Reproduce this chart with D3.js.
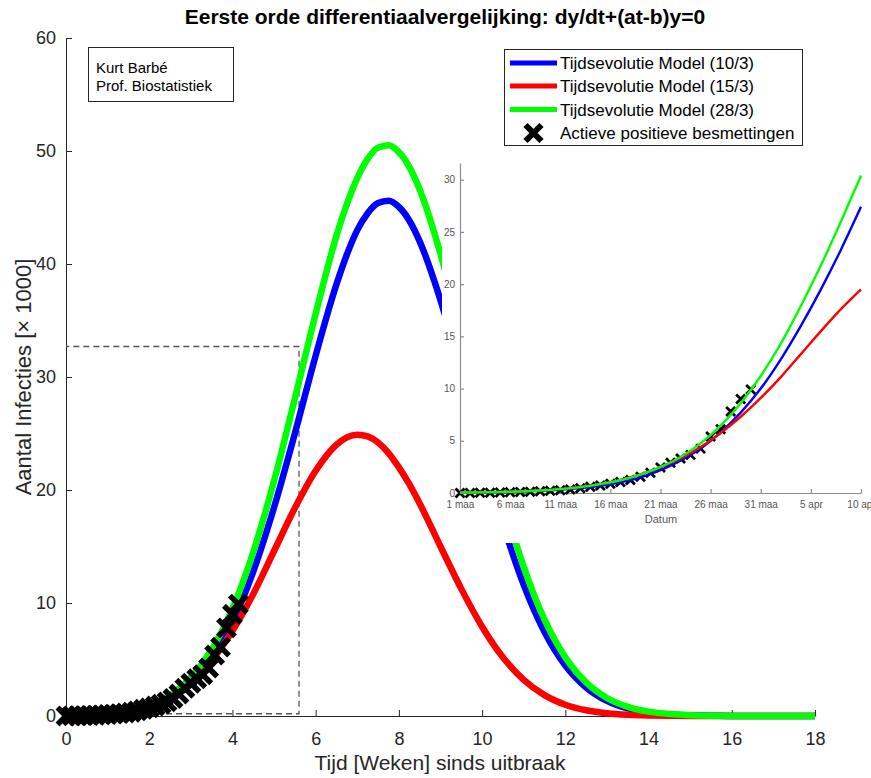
<!DOCTYPE html>
<html><head><meta charset="utf-8">
<script src="https://cdn.jsdelivr.net/npm/d3@7"></script>
<style>
body{margin:0;background:#fff;}
svg{display:block;font-family:"Liberation Sans",Arial,Helvetica,sans-serif;}
</style>
</head><body><svg id="c" width="871" height="778"></svg>
<script>
// ---------- DATA ----------
const titleText = "Eerste orde differentiaalvergelijking: dy/dt+(at-b)y=0";
const xLabel = "Tijd [Weken] sinds uitbraak";
const yLabel = "Aantal Infecties [\u00d7 1000]";
const seriesNames = ["Tijdsevolutie Model (10/3)", "Tijdsevolutie Model (15/3)", "Tijdsevolutie Model (28/3)"];
const markerName = "Actieve positieve besmettingen";
const noteLines = ["Kurt Barb\u00e9", "Prof. Biostatistiek"];

const xTicks = [0, 2, 4, 6, 8, 10, 12, 14, 16, 18];
const yTicks = [0, 10, 20, 30, 40, 50, 60];

// model curves, main chart (weeks, x1000)
const tWeeks = [0,0.5,1,1.5,2,2.5,3,3.5,4,4.5,5,5.5,6,6.5,6.75,7,7.25,7.5,7.75,8,8.25,8.5,9,9.5,10,10.5,11,11.5,12,12.5,13,13.5,14,14.5,15,15.5,16,16.5,17,17.5,18];
const blueMain  = [0.028,0.071,0.169,0.379,0.797,1.57,2.91,5.08,8.31,12.78,18.46,25.0,31.9,38.2,40.84,43.0,44.5,45.4,45.6,45.05,43.85,42.0,36.8,30.3,23.4,17.0,11.6,7.43,4.47,2.53,1.34,0.67,0.314,0.138,0.057,0.022,0.008,0.003,0.001,0,0];
const redMain   = [0.040,0.097,0.219,0.464,0.924,1.72,3.00,4.91,7.54,10.8,14.6,18.4,21.7,24.0,24.65,24.9,24.74,24.2,23.27,22.0,20.51,18.8,15.0,11.25,7.90,5.19,3.20,1.85,1.00,0.506,0.240,0.107,0.045,0.017,0.006,0.002,0.001,0,0,0,0];
const greenMain = [0.036,0.089,0.210,0.461,0.955,1.86,3.41,5.87,9.51,14.5,20.8,28.1,35.6,42.5,45.3,47.6,49.3,50.3,50.5,49.9,48.6,46.6,40.9,33.8,26.3,19.2,13.2,8.52,5.19,2.97,1.59,0.806,0.383,0.172,0.072,0.029,0.011,0.004,0.001,0,0];

// observed cases (days since 1 March, x1000)
const caseDays   = [0,1,2,3,4,5,6,7,8,9,10,11,12,13,14,15,16,17,18,19,20,21,22,23,24,25,26,27,28,29];
const caseValues = [0.0,0.01,0.02,0.03,0.05,0.07,0.10,0.13,0.17,0.21,0.27,0.33,0.45,0.60,0.72,0.88,1.05,1.25,1.55,1.95,2.45,2.9,3.3,3.65,4.25,5.4,6.1,7.8,9.0,9.9];

// inset (days since 1 March, x1000)
const insetDays  = [0,2,4,6,8,10,12,14,16,18,20,22,24,26,28,30,32,34,36,38,40];
const insetBlue  = [0.027,0.046,0.078,0.125,0.2,0.31,0.47,0.7,1.03,1.5,2.2,3.1,4.25,5.8,7.7,10.0,12.8,16.0,19.5,23.3,27.4];
const insetRed   = [0.038,0.064,0.104,0.165,0.26,0.40,0.60,0.88,1.26,1.77,2.45,3.3,4.4,5.75,7.3,9.1,11.1,13.3,15.5,17.6,19.5];
const insetGreen = [0.034,0.058,0.094,0.15,0.24,0.37,0.56,0.85,1.22,1.75,2.5,3.45,4.75,6.45,8.6,11.2,14.3,17.9,21.8,26.0,30.4];
const insetXTicks = [0,5,10,15,20,25,30,35,40];
const insetXTickLabels = ["1 maa","6 maa","11 maa","16 maa","21 maa","26 maa","31 maa","5 apr","10 apr"];
const insetYTicks = [0,5,10,15,20,25,30];
const insetXLabel = "Datum";

// zoom box in main chart
const zoomBoxX = [0, 5.6];
const zoomBoxY = [0.2, 32.7];

// ---------- STYLE ----------
const colors = ["#0000ff", "#ff0000", "#00ff00"];
const axisColor = "#262626";
const insetAxisColor = "#8c8c8c";

const svg = d3.select("#c");

// ---------- MAIN AXES ----------
const x = d3.scaleLinear().domain([0, 18]).range([66, 815]);
const y = d3.scaleLinear().domain([0, 60]).range([716, 38]);

const gx = svg.append("g").attr("transform", "translate(0,716)")
  .call(d3.axisBottom(x).tickValues(xTicks).tickSizeInner(-6).tickSizeOuter(0).tickPadding(16));
const gy = svg.append("g").attr("transform", "translate(66,0)")
  .call(d3.axisLeft(y).tickValues(yTicks).tickSizeInner(-6).tickSizeOuter(0).tickPadding(10));
[gx, gy].forEach(g => {
  g.attr("font-family", null).attr("font-size", null);
  g.selectAll("path,line").attr("stroke", axisColor).attr("stroke-width", 1);
  g.selectAll("text").attr("fill", axisColor).style("font-size", "18px");
});

svg.append("text").attr("x", 440).attr("y", 770).attr("text-anchor", "middle")
  .attr("fill", axisColor).style("font-size", "21px").text(xLabel);
svg.append("text").attr("transform", "translate(31,377) rotate(-90)").attr("text-anchor", "middle")
  .attr("fill", axisColor).style("font-size", "22px").text(yLabel);
svg.append("text").attr("x", 445).attr("y", 24).attr("text-anchor", "middle")
  .attr("fill", "#000").style("font-size", "21px").style("font-weight", "bold").text(titleText);

// zoom box dashed
svg.append("path")
  .attr("d", d3.line()([[x(zoomBoxX[0]), y(zoomBoxY[0])],[x(zoomBoxX[1]), y(zoomBoxY[0])],[x(zoomBoxX[1]), y(zoomBoxY[1])],[x(zoomBoxX[0]), y(zoomBoxY[1])]]))
  .attr("fill", "none").attr("stroke", "#555").attr("stroke-width", 1.3).attr("stroke-dasharray", "6,4");

// main curves
const mainSeries = [blueMain, redMain, greenMain];
const lineMain = d3.line().x(d => x(d[0])).y(d => y(d[1])).curve(d3.curveMonotoneX);
mainSeries.forEach((s, i) => {
  svg.append("path").datum(tWeeks.map((t, k) => [t, s[k]]))
    .attr("d", lineMain).attr("fill", "none").attr("stroke", colors[i]).attr("stroke-width", 6.5)
    .attr("stroke-linejoin", "round");
});

// main markers
function cross(sel, cx, cy, r, w) {
  sel.append("path")
    .attr("d", `M${cx - r},${cy - r}L${cx + r},${cy + r}M${cx - r},${cy + r}L${cx + r},${cy - r}`)
    .attr("stroke", "#000").attr("stroke-width", w).attr("fill", "none");
}
const gm = svg.append("g");
caseDays.forEach((d, k) => cross(gm, x(d / 7), y(caseValues[k]), 8.5, 5.5));

// ---------- TEXT BOX ----------
svg.append("rect").attr("x", 88.5).attr("y", 47.5).attr("width", 145).attr("height", 54)
  .attr("fill", "#fff").attr("stroke", axisColor).attr("stroke-width", 1);
noteLines.forEach((t, i) => svg.append("text").attr("x", 96).attr("y", 73 + i * 18)
  .attr("fill", "#000").style("font-size", "15px").text(t));

// ---------- LEGEND ----------
svg.append("rect").attr("x", 504.5).attr("y", 49.5).attr("width", 298).attr("height", 96)
  .attr("fill", "#fff").attr("stroke", axisColor).attr("stroke-width", 1);
const rowsY = [63, 86, 109.5, 133];
seriesNames.forEach((n, i) => {
  svg.append("line").attr("x1", 510).attr("x2", 557).attr("y1", rowsY[i]).attr("y2", rowsY[i])
    .attr("stroke", colors[i]).attr("stroke-width", 5);
  svg.append("text").attr("x", 560).attr("y", rowsY[i] + 6).attr("fill", "#000")
    .style("font-size", "17px").text(n);
});
cross(svg, 533.5, rowsY[3], 8, 6);
svg.append("text").attr("x", 560).attr("y", rowsY[3] + 6).attr("fill", "#000")
  .style("font-size", "17px").text(markerName);

// ---------- INSET ----------
svg.append("rect").attr("x", 442).attr("y", 155).attr("width", 429).attr("height", 388).attr("fill", "#fff");
const ix = d3.scaleLinear().domain([0, 40]).range([460, 861]);
const iy = d3.scaleLinear().domain([0, 31.6]).range([493, 163]);
const gix = svg.append("g").attr("transform", "translate(0,493)")
  .call(d3.axisBottom(ix).tickValues(insetXTicks).tickFormat((d, i) => insetXTickLabels[i])
    .tickSizeInner(-4).tickSizeOuter(0).tickPadding(8));
const giy = svg.append("g").attr("transform", "translate(460,0)")
  .call(d3.axisLeft(iy).tickValues(insetYTicks).tickSizeInner(-4).tickSizeOuter(0).tickPadding(5));
[gix, giy].forEach(g => {
  g.attr("font-family", null).attr("font-size", null);
  g.selectAll("path,line").attr("stroke", insetAxisColor).attr("stroke-width", 1.2);
  g.selectAll("text").attr("fill", "#555").style("font-size", "10px");
});
svg.append("text").attr("x", 661).attr("y", 523).attr("text-anchor", "middle")
  .attr("fill", "#555").style("font-size", "11px").text(insetXLabel);

const gim = svg.append("g");
caseDays.forEach((d, k) => cross(gim, ix(d), iy(caseValues[k]), 4.5, 2.8));

const lineInset = d3.line().x(d => ix(d[0])).y(d => iy(d[1])).curve(d3.curveMonotoneX);
[insetBlue, insetRed, insetGreen].forEach((s, i) => {
  svg.append("path").datum(insetDays.map((t, k) => [t, s[k]]))
    .attr("d", lineInset).attr("fill", "none").attr("stroke", colors[i]).attr("stroke-width", 2.4);
});
</script></body></html>
